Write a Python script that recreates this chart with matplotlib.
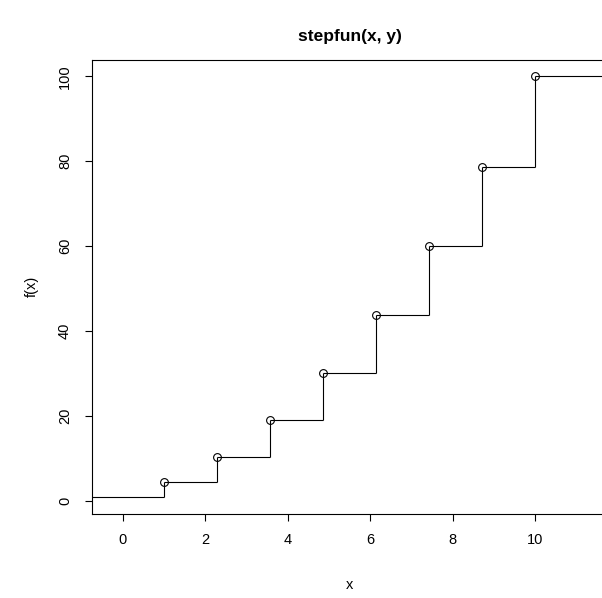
import matplotlib
matplotlib.use("Agg")
import matplotlib.pyplot as plt
import numpy as np

plt.rcParams['font.family'] = ['Liberation Sans', 'DejaVu Sans']

# step function data: jump points and values
knots = [1.0, 2.286, 3.571, 4.857, 6.143, 7.429, 8.714, 10.0]
y_vals = [4.4, 10.5, 19.2, 30.1, 43.8, 60.0, 78.7, 100.0]
y_left = 1.0

x_ticks = [0, 2, 4, 6, 8, 10]
y_ticks = [0, 20, 40, 60, 80, 100]

W, H = 602, 598
fig = plt.figure(figsize=(W / 100, H / 100), dpi=100)
# plot region in pixels (R style margins), right edge runs past the image
left, right, top, bottom = 91.7, 607.5, 59.5, 513.7
ax = fig.add_axes([left / W, 1 - bottom / H, (right - left) / W, (bottom - top) / H])
ax.set_xlim(-0.749, 11.749)
ax.set_ylim(-2.96, 103.96)

lw = 0.8
xlo, xhi = -5, 20
levels = [y_left] + y_vals
edges = [xlo] + knots + [xhi]
ax.hlines(levels, edges[:-1], edges[1:], colors='black', linewidth=lw)
ax.vlines(knots, levels[:-1], levels[1:], colors='black', linewidth=lw)
ax.plot(knots, y_vals, 'o', mfc='none', mec='black', ms=5.6, mew=lw)

for s in ax.spines.values():
    s.set_linewidth(lw)
ax.spines['right'].set_visible(False)

ax.set_xticks(x_ticks)
ax.set_yticks(y_ticks)
ax.tick_params(direction='out', length=5.2, width=lw, labelsize=10.5, pad=9)
plt.setp(ax.get_yticklabels(), rotation=90, va='center')

ax.set_xlabel('x', fontsize=10.5, labelpad=22)
ax.set_ylabel('f(x)', fontsize=10.5, labelpad=14)
ax.set_title('stepfun(x, y)', fontsize=12.5, fontweight='bold', pad=13)

fig.savefig('out.png', dpi=100)
